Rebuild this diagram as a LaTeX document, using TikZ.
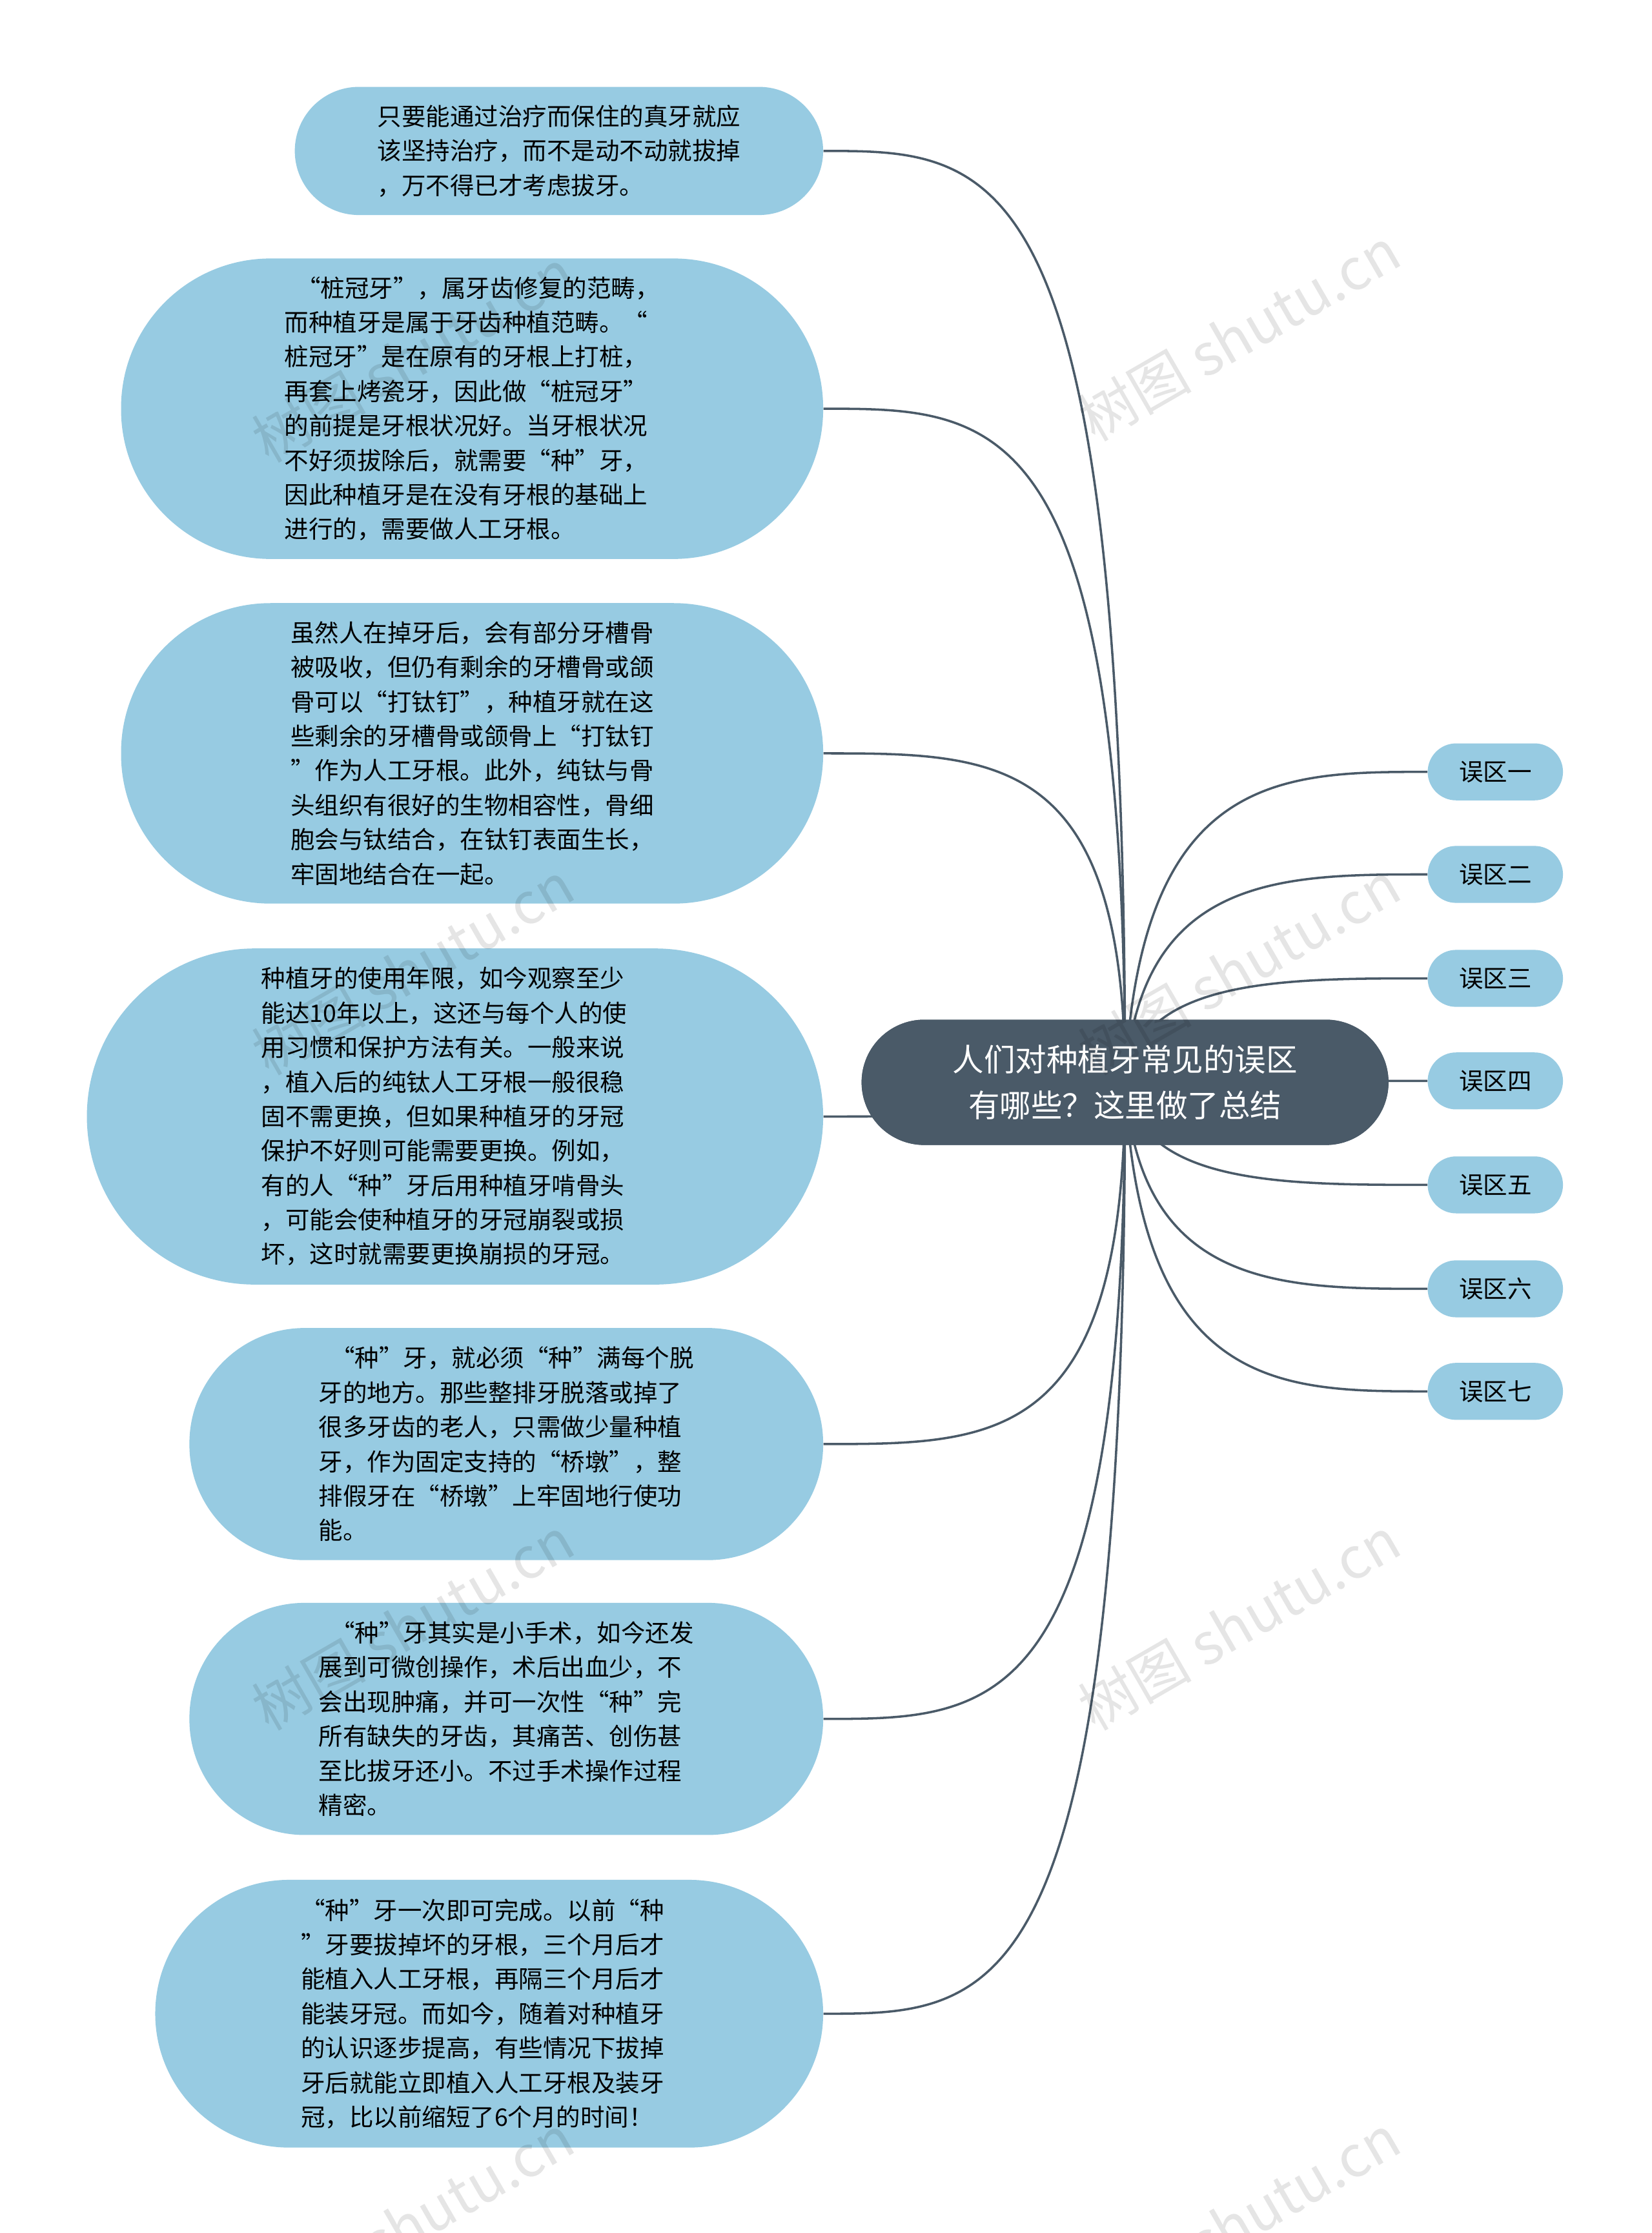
\documentclass[tikz,border=0pt]{standalone}
\usepackage{fontspec}
\setmainfont{Noto Sans CJK SC}
\begin{document}
\begin{tikzpicture}[x=1pt,y=-1pt,
 leaf/.style={draw=none,fill=leafc,rounded corners=#1,inner sep=0pt,align=left,text=black,font=\fontsize{17}{24.2}\selectfont},
 tag/.style={draw=none,fill=leafc,rounded corners=20,minimum width=95,minimum height=40,font=\fontsize{17}{20}\selectfont},
 link/.style={draw=linec,line width=1.6},
 wm/.style={text=black,opacity=0.1,rotate=30,font=\fontsize{40}{40}\selectfont}]
\definecolor{leafc}{HTML}{97CBE2}
\definecolor{linec}{HTML}{4A5A68}
\useasboundingbox (0,0) rectangle (1160,1568);
\fill[white] (0,0) rectangle (1160,1568);
\coordinate (hub) at (790,760);
\node[rectangle,rounded corners=44,fill=linec,text=white,minimum width=370,minimum height=88,align=center,font=\fontsize{22}{32}\selectfont] (c) at (790,760) {人们对种植牙常见的误区\\有哪些？这里做了总结};
\foreach \n/\t/\y in {r1/误区一/542,r2/误区二/614,r3/误区三/687,r4/误区四/759,r5/误区五/832,r6/误区六/905,r7/误区七/977}{
  \node[tag] (\n) at (1050,\y) {\t};
}
\node[leaf=45,minimum width=371,minimum height=90] (l1) at (392.5,106) {只要能通过治疗而保住的真牙就应\\该坚持治疗，而不是动不动就拔掉\\，万不得已才考虑拔牙。\hspace*{1.5em}};
\node[leaf=105,minimum width=493,minimum height=211] (l2) at (331.5,287) {\hspace*{0.5em}“桩冠牙”，属牙齿修复的范畴，\\而种植牙是属于牙齿种植范畴。“\\桩冠牙”是在原有的牙根上打桩，\\再套上烤瓷牙，因此做“桩冠牙”\\的前提是牙根状况好。当牙根状况\\不好须拔除后，就需要“种”牙，\\因此种植牙是在没有牙根的基础上\\进行的，需要做人工牙根。\hspace*{2em}};
\node[leaf=105,minimum width=493,minimum height=211] (l3) at (331.5,529) {虽然人在掉牙后，会有部分牙槽骨\\被吸收，但仍有剩余的牙槽骨或颌\\骨可以“打钛钉”，种植牙就在这\\些剩余的牙槽骨或颌骨上“打钛钉\\”作为人工牙根。此外，纯钛与骨\\头组织有很好的生物相容性，骨细\\胞会与钛结合，在钛钉表面生长，\\牢固地结合在一起。\hspace*{2em}};
\node[leaf=118,minimum width=517,minimum height=236] (l4) at (319.5,784) {种植牙的使用年限，如今观察至少\\能达10年以上，这还与每个人的使\\用习惯和保护方法有关。一般来说\\，植入后的纯钛人工牙根一般很稳\\固不需更换，但如果种植牙的牙冠\\保护不好则可能需要更换。例如，\\有的人“种”牙后用种植牙啃骨头\\，可能会使种植牙的牙冠崩裂或损\\坏，这时就需要更换崩损的牙冠。\hspace*{1em}};
\node[leaf=81,minimum width=445,minimum height=163] (l5) at (355.5,1014) {\hspace*{0.5em}“种”牙，就必须“种”满每个脱\\牙的地方。那些整排牙脱落或掉了\\很多牙齿的老人，只需做少量种植\\牙，作为固定支持的“桥墩”，整\\排假牙在“桥墩”上牢固地行使功\\能。\hspace*{2em}};
\node[leaf=81,minimum width=445,minimum height=163] (l6) at (355.5,1207) {\hspace*{0.5em}“种”牙其实是小手术，如今还发\\展到可微创操作，术后出血少，不\\会出现肿痛，并可一次性“种”完\\所有缺失的牙齿，其痛苦、创伤甚\\至比拔牙还小。不过手术操作过程\\精密。\hspace*{2em}};
\node[leaf=94,minimum width=469,minimum height=188] (l7) at (343.5,1414) {“种”牙一次即可完成。以前“种\\”牙要拔掉坏的牙根，三个月后才\\能植入人工牙根，再隔三个月后才\\能装牙冠。而如今，随着对种植牙\\的认识逐步提高，有些情况下拔掉\\牙后就能立即植入人工牙根及装牙\\冠，比以前缩短了6个月的时间！\hspace*{1em}};
\foreach \n in {l1,l2,l3,l4,l5,l6,l7}{
  \path (\n.east) coordinate (e);
  \draw[link] (hub) .. controls (790,760 |- e) and (700,0 |- e) .. (\n.east);
}
\foreach \n in {r1,r2,r3,r4,r5,r6,r7}{
  \path (\n.west) coordinate (e);
  \draw[link] (hub) .. controls (800,0 |- e) and (900,0 |- e) .. (\n.west);
}
\node[rectangle,rounded corners=44,fill=linec,text=white,minimum width=370,minimum height=88,align=center,font=\fontsize{22}{32}\selectfont] at (790,760) {人们对种植牙常见的误区\\有哪些？这里做了总结};
\foreach \p in {(290,250),(870,235),(290,680),(870,680),(290,1140),(870,1140),(290,1560),(870,1560)}
  \node[wm] at \p {树图 shutu.cn};
\end{tikzpicture}
\end{document}
